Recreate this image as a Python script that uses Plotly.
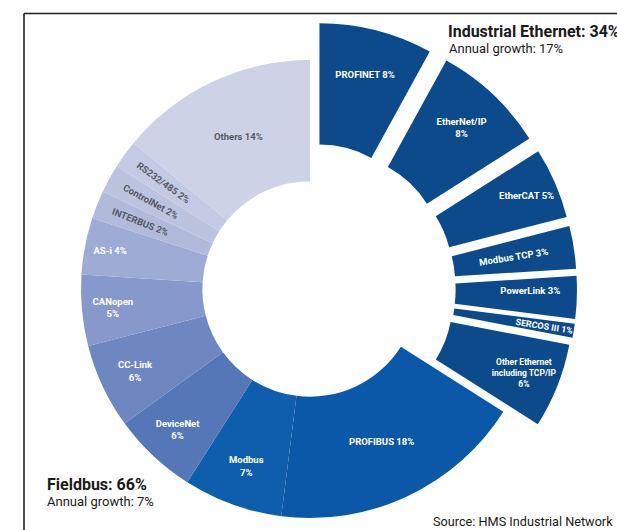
import math
import plotly.graph_objects as go

# ---- data (clockwise from 12 o'clock) ----
ethernet_names = ["PROFINET", "EtherNet/IP", "EtherCAT", "Modbus TCP", "PowerLink",
                  "SERCOS III", "Other Ethernet including TCP/IP"]
ethernet_values = [8, 8, 5, 3, 3, 1, 6]
fieldbus_names = ["PROFIBUS", "Modbus", "DeviceNet", "CC-Link", "CANopen", "AS-i",
                  "INTERBUS", "ControlNet", "RS232/485", "Others"]
fieldbus_values = [18, 7, 6, 6, 5, 4, 2, 2, 2, 14]
fieldbus_total = 66
ethernet_total = 34
fieldbus_growth = 7
ethernet_growth = 17

# ---- styles ----
fieldbus_colors = ["#0b58a8", "#0f5eae", "#5577b7", "#6f87c1", "#8799cb", "#9eacd5",
                   "#b1badb", "#bcc3df", "#c4cae3", "#cdd2e7"]
fieldbus_text_colors = ["white", "white", "white", "white", "white", "white",
                        "#555a66", "#555a66", "#555a66", "#555a66"]
fieldbus_breaks = [" ", "<br>", "<br>", "<br>", "<br>", " ", " ", " ", " ", " "]
ethernet_color = "#0d4a8c"
ethernet_breaks = [" ", "<br>", " ", " ", " ", " ", "<br>"]
ethernet_names_disp = ["PROFINET", "EtherNet/IP", "EtherCAT", "Modbus TCP", "PowerLink",
                       "SERCOS III", "Other Ethernet<br>including TCP/IP"]
ethernet_orient = ["horizontal", "horizontal", "auto", "auto", "horizontal",
                   "auto", "horizontal"]
CLEAR = "rgba(0,0,0,0)"

W, H = 617, 530
CX, CY, R = 310, 289, 229     # pixel centre / outer radius of the ring
HOLE = 0.47
PULL_PX = 38                  # how far the Industrial Ethernet slices are pulled out

def clamp(v):
    return min(1.0, max(0.0, v))

def dom(cx, cy, half):
    return dict(x=[clamp((cx - half) / W), clamp((cx + half) / W)],
                y=[clamp((H - cy - half) / H), clamp((H - cy + half) / H)])

LABEL_FONT = dict(size=9.5, family="Roboto", weight="bold")
grand_total = fieldbus_total + ethernet_total

fig = go.Figure()

# Fieldbus ring (ethernet part is an invisible placeholder)
fb_text = [f"{n}{b}{v}%" for n, b, v in zip(fieldbus_names, fieldbus_breaks, fieldbus_values)]
fig.add_trace(go.Pie(
    labels=["_eth"] + fieldbus_names,
    values=[ethernet_total] + fieldbus_values,
    text=[""] + fb_text,
    textinfo="text",
    hoverinfo="skip",
    sort=False, direction="clockwise", rotation=0,
    hole=HOLE,
    marker=dict(colors=[CLEAR] + fieldbus_colors, line=dict(width=0)),
    textfont=dict(color=["white"] + fieldbus_text_colors, **LABEL_FONT),
    insidetextorientation="auto",
    textposition="inside",
    domain=dom(CX, CY, R),
    showlegend=False,
))

# Industrial Ethernet slices: each one drawn by its own pie, shifted out along its bisector
before = 0
for name, disp, brk, v, orient in zip(ethernet_names, ethernet_names_disp, ethernet_breaks,
                                      ethernet_values, ethernet_orient):
    after = grand_total - before - v
    mid = before + v / 2
    ang = math.radians(90 - 360 * mid / grand_total)
    cx = CX + PULL_PX * math.cos(ang)
    cy = CY - PULL_PX * math.sin(ang)
    fig.add_trace(go.Pie(
        labels=["_a", name, "_b"],
        values=[before, v, after],
        text=["", f"{disp}{brk}{v}%", ""],
        textinfo="text",
        hoverinfo="skip",
        sort=False, direction="clockwise", rotation=0,
        hole=HOLE,
        marker=dict(colors=[CLEAR, ethernet_color, CLEAR], line=dict(width=0)),
        textfont=dict(color="white", **LABEL_FONT),
        insidetextorientation=orient,
        textposition="inside",
        domain=dom(cx, cy, R),
        showlegend=False,
    ))
    before += v

def px(x, y):
    return x / W, 1 - y / H

annots = [
    (446, 32, f"<b>Industrial Ethernet: {ethernet_total}%</b>", 16),
    (447, 49, f"Annual growth: {ethernet_growth}%", 13),
    (45, 484, f"<b>Fieldbus: {fieldbus_total}%</b>", 16),
    (45, 501, f"Annual growth: {fieldbus_growth}%", 13),
    (431, 521, "Source: HMS Industrial Network", 12.7),
]
for x, y, t, s in annots:
    ax, ay = px(x, y)
    fig.add_annotation(x=ax, y=ay, xref="paper", yref="paper", text=t,
                       showarrow=False, xanchor="left", yanchor="middle",
                       font=dict(family="Roboto", size=s, color="#1a1a1a"))

# frame: only the top and left edges are inside the picture
fx, fy = px(24, 13.5)
frame = dict(color="#1e1e1e", width=1.6)
fig.add_shape(type="line", xref="paper", yref="paper", x0=fx, y0=fy, x1=1.0, y1=fy,
              line=frame, layer="below")
fig.add_shape(type="line", xref="paper", yref="paper", x0=fx, y0=fy, x1=fx, y1=0.0,
              line=frame, layer="below")

fig.update_layout(width=W, height=H, margin=dict(l=0, r=0, t=0, b=0),
                  paper_bgcolor="white", plot_bgcolor="white", showlegend=False)

fig.write_html("out.html")
